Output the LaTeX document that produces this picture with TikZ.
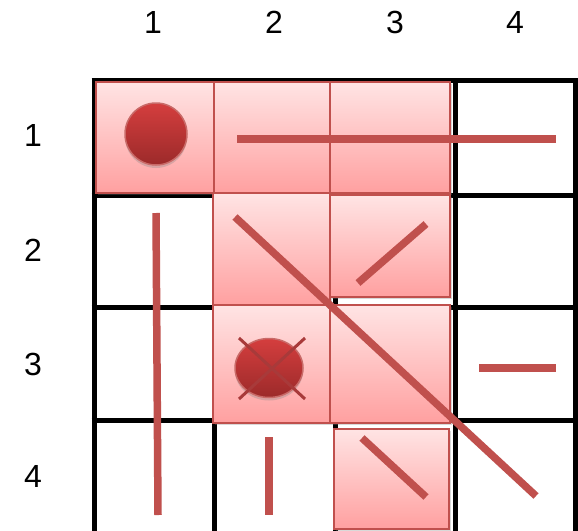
\documentclass[tikz,border=0pt]{standalone}
\usepackage{fontspec}
\setmainfont{Liberation Sans}
\usetikzlibrary{shadows}
\definecolor{rd}{HTML}{C0504D}
\definecolor{pinktop}{HTML}{FFE4E4}
\definecolor{pinkbot}{HTML}{FFA0A0}
\definecolor{balltop}{HTML}{D43E3E}
\definecolor{ballbot}{HTML}{9C2A2A}
\definecolor{crossc}{HTML}{A83A3A}
\begin{document}
\begin{tikzpicture}[x=1pt,y=-1pt,
  gridline/.style={line width=5pt,black},
  pinkbox/.style={draw=rd,line width=1.8pt,top color=pinktop,bottom color=pinkbot,
    drop shadow={shadow xshift=1.5pt,shadow yshift=-2pt,opacity=0.3}},
  redline/.style={rd,line width=7.5pt},
  ball/.style={draw=rd!85!white,line width=1.5pt,top color=balltop,bottom color=ballbot,
    drop shadow={shadow xshift=0pt,shadow yshift=-3pt,opacity=0.3}},
  crossline/.style={crossc,line width=3pt},
  lab/.style={font=\fontsize{32}{32}\selectfont,text=black,inner sep=0pt}]
\useasboundingbox (0,0) rectangle (578,530);
\fill[white] (0,0) rectangle (578,530);
% labels
\node[lab] (c1) at (153,22) {1};
\node[lab] (c2) at (274,22) {2};
\node[lab] (c3) at (395,22) {3};
\node[lab] (c4) at (515,22) {4};
\node[lab] (r1) at (33,135) {1};
\node[lab] (r2) at (33,250) {2};
\node[lab] (r3) at (33,364) {3};
\node[lab] (r4) at (33,476) {4};
% grid
\foreach \x in {94,214.5,335,455,575.5} \draw[gridline] (\x,78) -- (\x,532);
\foreach \y in {80,195,307,420} \draw[gridline] (91.5,\y) -- (578,\y);
% pink boxes
\draw[pinkbox] (96,82) rectangle (214,193);
\draw[pinkbox] (214,82) rectangle (330,193);
\draw[pinkbox] (330,82) rectangle (450,193);
\draw[pinkbox] (213,193) rectangle (330,305);
\draw[pinkbox] (330,195) rectangle (450,297);
\draw[pinkbox] (213,305) rectangle (330,423);
\draw[pinkbox] (330,305) rectangle (450,423);
\draw[pinkbox] (334,429) rectangle (449,529);
% shapes
\draw[ball] (156,134) circle (31);
\draw[ball] (269,368) ellipse (34 and 29.5);
\draw[crossline] (239,338) -- (305,399);
\draw[crossline] (239,399) -- (305,338);
% red lines
\draw[redline] (237,139) -- (556,139);
\draw[redline] (156,213) -- (158,515);
\draw[redline] (235,217) -- (536,496);
\draw[redline] (358,283) -- (426,224);
\draw[redline] (479,368) -- (556,368);
\draw[redline] (269,437) -- (269,515);
\draw[redline] (362,438) -- (426,497);
\end{tikzpicture}
\end{document}
